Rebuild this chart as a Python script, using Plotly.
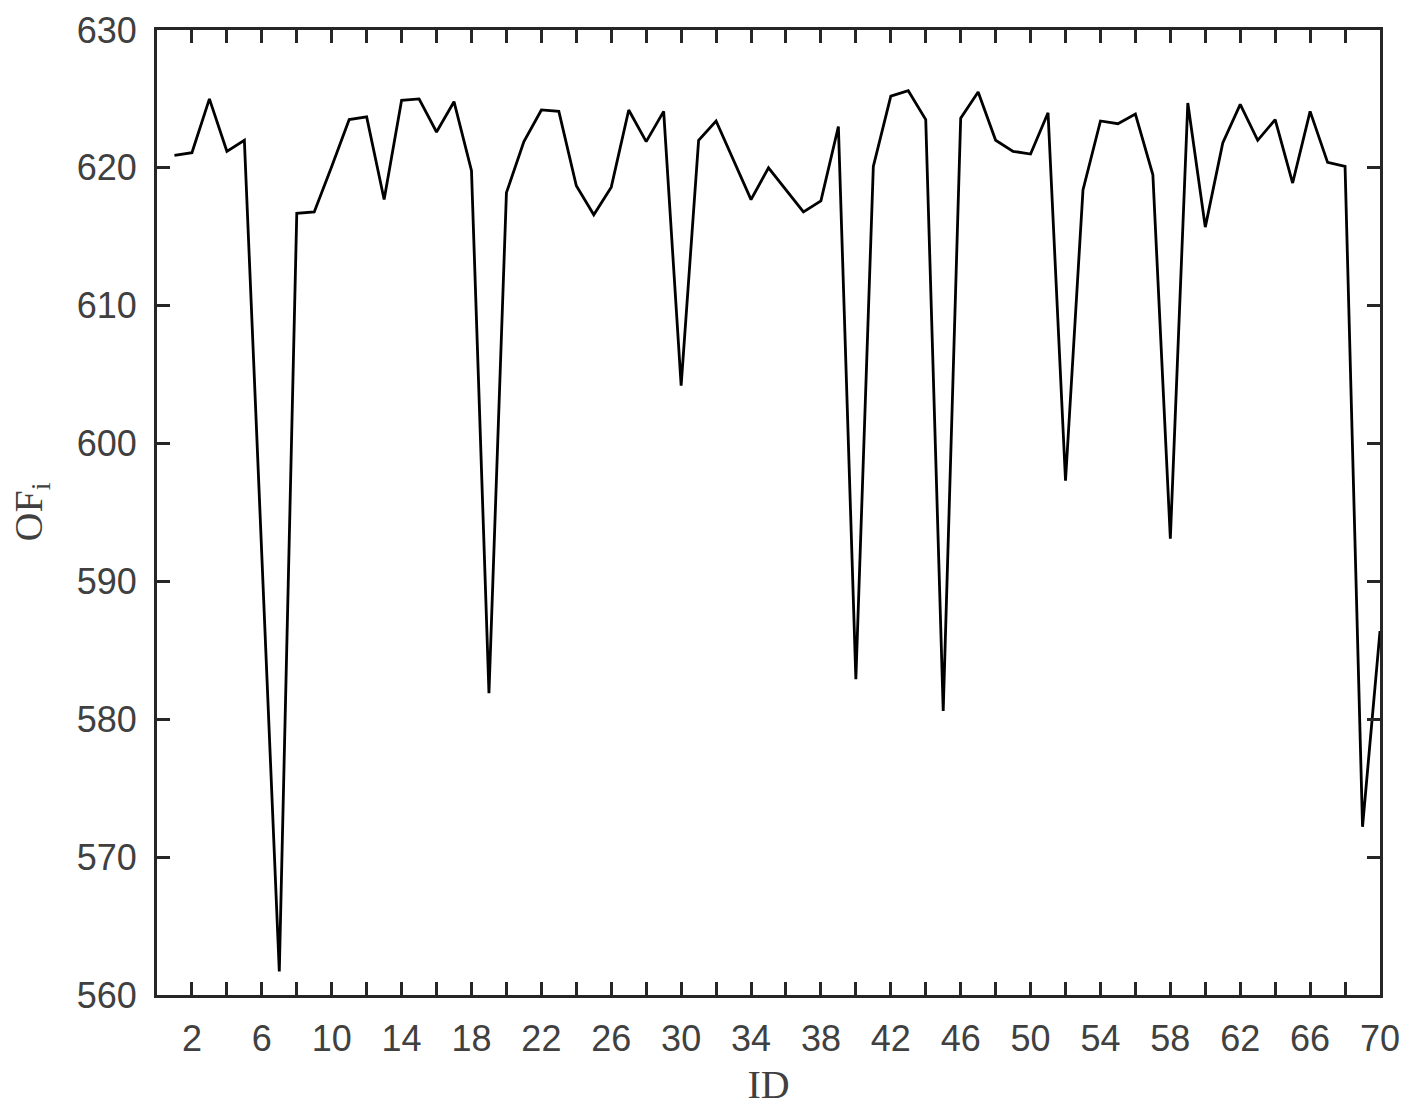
import plotly.graph_objects as go

# objective function value for each run ID
ids = list(range(1, 71))
of_values = [
    620.9, 621.1, 625.0, 621.2, 622.0, 591.8, 561.7, 616.7, 616.8, 620.1,
    623.5, 623.7, 617.7, 624.9, 625.0, 622.6, 624.8, 619.8, 581.9, 618.2,
    621.9, 624.2, 624.1, 618.7, 616.6, 618.6, 624.2, 621.9, 624.1, 604.2,
    622.0, 623.4, 620.6, 617.7, 620.0, 618.4, 616.8, 617.6, 623.0, 582.9,
    620.1, 625.2, 625.6, 623.5, 580.6, 623.6, 625.5, 622.0, 621.2, 621.0,
    624.0, 597.3, 618.4, 623.4, 623.2, 623.9, 619.5, 593.1, 624.7, 615.7,
    621.8, 624.6, 622.0, 623.5, 618.9, 624.1, 620.4, 620.1, 572.2, 586.4,
]

# labelled ticks every 4 (from 2), plain ticks every 2
x_tickvals = list(range(2, 71, 4))
y_tickvals = [560, 570, 580, 590, 600, 610, 620, 630]

axis_col = "#262626"
label_col = "#404040"
serif = "Liberation Serif, Times New Roman"

fig = go.Figure()
fig.add_trace(go.Scatter(
    x=ids, y=of_values, mode="lines",
    line=dict(color="black", width=2.8),
    showlegend=False,
))

fig.update_layout(
    width=1402, height=1108,
    margin=dict(l=149, r=30, t=22, b=121),
    plot_bgcolor="white", paper_bgcolor="white",
    font=dict(family="Liberation Sans, Arial", size=36, color=label_col),
)
fig.update_xaxes(
    range=[0, 70], tickvals=x_tickvals, automargin=False,
    ticks="inside", ticklen=13, tickwidth=2.5, tickcolor=axis_col,
    minor=dict(ticks="inside", tick0=0, dtick=2, ticklen=13,
               tickwidth=2.5, tickcolor=axis_col, showgrid=False),
    showline=True, linewidth=3, linecolor=axis_col, mirror="ticks",
    showgrid=False, zeroline=False, ticklabelstandoff=10,
    title=dict(text="ID", font=dict(family=serif, size=40, color=label_col),
               standoff=12),
)
fig.update_yaxes(
    range=[560, 630], tickvals=y_tickvals, automargin=False,
    ticks="inside", ticklen=13, tickwidth=2.5, tickcolor=axis_col,
    showline=True, linewidth=3, linecolor=axis_col, mirror="ticks",
    showgrid=False, zeroline=False, ticklabelstandoff=10,
)

# y axis title placed by hand, closer to the edge than plotly would put it
fig.add_annotation(
    text="OF<sub>i</sub>", textangle=-90, showarrow=False,
    xref="paper", yref="paper", x=0, y=0.5,
    xanchor="center", yanchor="middle", xshift=-127,
    font=dict(family=serif, size=40, color=label_col),
)

fig.write_html("out.html")
